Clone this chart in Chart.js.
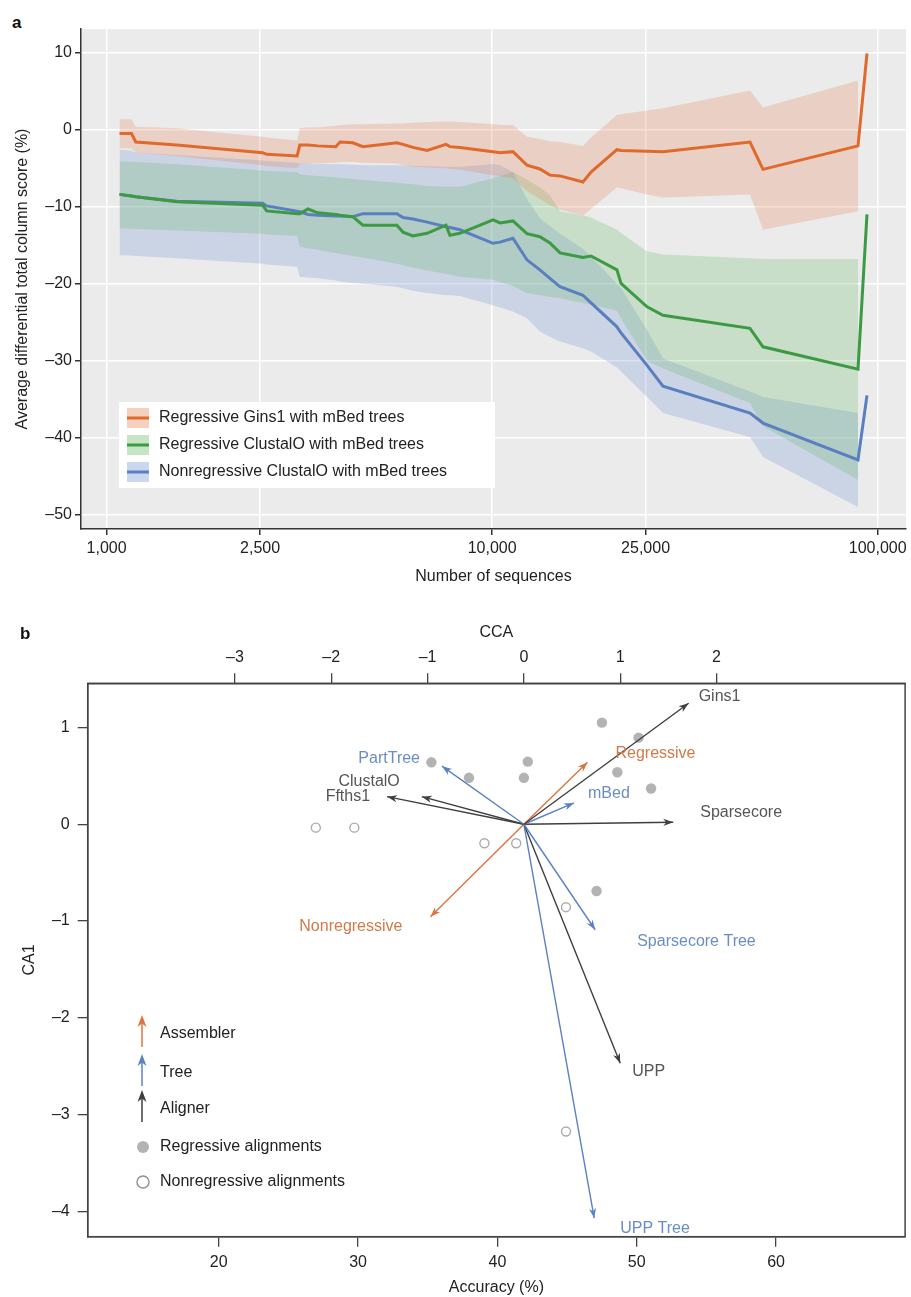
<!DOCTYPE html>
<html>
<head>
<meta charset="utf-8">
<script src="https://cdn.jsdelivr.net/npm/chart.js@4.4.1/dist/chart.umd.min.js"></script>
<style>
  body { margin: 0; background: #fff; width: 911px; height: 1297px; position: relative; overflow: hidden; }
  canvas { position: absolute; left: 0; }
  .panel { position: absolute; font: bold 17px 'Liberation Sans', Arial, sans-serif; color: #111; }
</style>
</head>
<body>
<div class="panel" style="left:12px; top:13px;">a</div>
<canvas id="chartA" width="911" height="600" style="top:0"></canvas>
<canvas id="chartB" width="911" height="697" style="top:600px"></canvas>
<div class="panel" style="left:20px; top:624px;">b</div>
<script>
// ---------- panel a data ----------
const seqCounts = [1080, 1160, 1190, 1520, 2540, 2600, 3120, 3170, 3330, 3530, 3930, 4030, 4350, 4620,
  5660, 5870, 6230, 6780, 7590, 7770, 8250, 10050, 10480, 11320, 12310, 13300, 14120, 15000,
  17200, 18050, 21070, 21590, 25220, 27740, 46640, 50410, 88920, 93810];

const ginsMean = [-0.5, -0.5, -1.6, -2.0, -3.0, -3.2, -3.4, -2.0, -2.0, -2.1, -2.2, -1.6, -1.7, -2.2,
  -1.7, -1.9, -2.3, -2.7, -1.9, -2.2, -2.3, -2.85, -3.0, -2.85, -4.6, -5.1, -5.9, -6.0,
  -6.8, -5.5, -2.6, -2.7, -2.8, -2.85, -1.6, -5.15, -2.1, 9.9];
const ginsHi = [1.35, 1.35, 0.4, 0.2, -0.9, -1.0, -1.4, 0.2, 0.3, 0.3, 0.5, 0.6, 0.7, 0.7,
  0.8, 0.8, 0.9, 1.0, 1.05, 1.05, 1.0, 0.7, 0.6, 0.6, -0.9, -1.2, -1.5, -1.6,
  -2.1, -1.0, 1.9, 2.0, 2.5, 2.8, 5.1, 2.9, 6.4, null];
const ginsLo = [-2.4, -2.4, -3.0, -3.4, -4.6, -4.7, -5.0, -4.5, -4.4, -4.4, -4.3, -4.2, -4.2, -4.3,
  -4.4, -4.6, -4.8, -4.9, -5.0, -5.1, -5.2, -5.9, -6.0, -6.3, -8.0, -9.0, -9.8, -10.4,
  -11.1, -10.3, -7.5, -7.6, -8.4, -8.8, -8.4, -13.0, -10.6, null];

const clustalMean = [-8.4, -8.6, -8.7, -9.35, -9.8, -10.55, -10.9, -10.9, -10.3, -10.8, -11.0, -11.1, -11.3, -12.4,
  -12.4, -13.3, -13.8, -13.45, -12.4, -13.7, -13.45, -11.7, -12.1, -11.85, -13.5, -13.9, -14.7, -16.0,
  -16.6, -16.4, -18.2, -19.95, -23.0, -24.1, -25.8, -28.2, -31.1, -11.0];
const clustalHi = [-4.1, -4.15, -4.2, -4.5, -5.3, -5.35, -5.5, -5.8, -5.9, -6.0, -6.2, -6.25, -6.4, -6.5,
  -6.9, -7.0, -7.1, -7.3, -7.4, -7.4, -7.4, -6.3, -6.0, -5.5, -6.5, -7.5, -8.5, -10.6,
  -11.1, -11.4, -13.0, -13.4, -15.8, -16.2, -16.7, -16.8, -16.8, null];
const clustalLo = [-12.8, -12.85, -12.9, -13.1, -13.5, -13.6, -13.8, -15.2, -15.4, -15.6, -16.0, -16.1, -16.4, -16.6,
  -17.4, -17.6, -17.9, -18.3, -18.7, -18.8, -19.1, -19.5, -19.8, -20.3, -21.2, -21.5, -21.7, -21.9,
  -22.5, -22.7, -23.5, -24.5, -30.0, -31.0, -35.5, -38.5, -45.5, null];

const nonregMean = [-8.4, -8.6, -8.7, -9.3, -9.55, -9.9, -10.6, -10.65, -11.0, -11.1, -11.2, -11.2, -11.3, -10.9,
  -10.9, -11.4, -11.6, -12.0, -12.6, -12.7, -13.0, -14.75, -14.6, -14.1, -16.9, -18.2, -19.3, -20.4,
  -21.5, -22.5, -25.6, -26.4, -30.6, -33.3, -36.8, -38.1, -42.9, -34.5];
const nonregHi = [-2.6, -2.7, -3.0, -3.3, -4.0, -4.05, -4.3, -4.4, -4.4, -4.45, -4.5, -4.5, -4.55, -4.6,
  -4.6, -4.65, -4.7, -4.75, -4.8, -4.8, -4.8, -4.5, -4.6, -5.5, -9.0, -11.5, -12.5, -13.5,
  -15.5, -16.5, -20.0, -20.6, -26.0, -29.7, -34.0, -34.7, -36.8, null];
const nonregLo = [-16.3, -16.35, -16.4, -16.7, -17.4, -17.5, -17.8, -19.1, -19.2, -19.3, -19.6, -19.7, -19.9, -20.0,
  -20.4, -20.6, -20.9, -21.2, -21.5, -21.5, -21.6, -22.8, -23.1, -23.6, -24.5, -26.2, -26.9, -27.5,
  -28.4, -28.8, -30.9, -31.4, -34.7, -36.8, -39.9, -42.5, -49.0, null];

const seriesNames = ['Regressive Gins1 with mBed trees', 'Regressive ClustalO with mBed trees',
  'Nonregressive ClustalO with mBed trees'];
const seqTicks = [1000, 2500, 10000, 25000, 100000];
const scoreTicks = [-50, -40, -30, -20, -10, 0, 10];

// ---------- panel b data ----------
const arrowNames = ['Gins1', 'Regressive', 'mBed', 'Sparsecore', 'PartTree', 'ClustalO', 'Ffths1',
  'Nonregressive', 'Sparsecore Tree', 'UPP', 'UPP Tree'];
const arrowKinds = ['aligner', 'assembler', 'tree', 'aligner', 'tree', 'aligner', 'aligner',
  'assembler', 'tree', 'aligner', 'tree'];
const arrowCCA = [1.71, 0.66, 0.52, 1.55, -0.85, -1.06, -1.42, -0.97, 0.74, 1.00, 0.73];
const arrowCA1 = [1.25, 0.64, 0.22, 0.02, 0.60, 0.285, 0.285, -0.955, -1.09, -2.47, -4.07];

const regX = [0.81, 1.19, 0.04, 0.0, -0.57, 0.97, 1.32, 0.754, -0.96];
const regY = [1.05, 0.895, 0.647, 0.48, 0.48, 0.537, 0.37, -0.69, 0.64];
const nonregX = [-2.16, -1.76, -0.41, -0.08, 0.437, 0.437];
const nonregY = [-0.035, -0.035, -0.196, -0.196, -0.857, -3.175];

const accTicks = [20, 30, 40, 50, 60];
const ccaTicks = [-3, -2, -1, 0, 1, 2];
const ca1Ticks = [-4, -3, -2, -1, 0, 1];
const legendBNames = ['Assembler', 'Tree', 'Aligner', 'Regressive alignments', 'Nonregressive alignments'];

// ---------- styles ----------
const FONT = "'Liberation Sans', Arial, sans-serif";
Chart.defaults.font.family = FONT;
Chart.defaults.font.size = 16;
Chart.defaults.color = '#222';

const lineColors = ['#e0692c', '#3c9a42', '#5a7fc0'];
const bandColors = ['rgba(228,120,70,0.24)', 'rgba(90,180,90,0.24)', 'rgba(100,140,210,0.24)'];
const kindColor = { assembler: '#db7440', tree: '#5b82c0', aligner: '#3f3f3f' };
const kindText = { assembler: '#cf7a4b', tree: '#6a8dc4', aligner: '#555' };

// where each arrow label sits relative to its tip (px)
const labelPlace = {
  'Gins1': [10, -7, 'left'], 'Regressive': [28, -9, 'left'], 'mBed': [14, -9, 'left'],
  'Sparsecore': [27, -10, 'left'], 'PartTree': [-22, -8, 'right'], 'ClustalO': [-22, -15, 'right'],
  'Ffths1': [-17, 0, 'right'], 'Nonregressive': [-28, 10, 'right'], 'Sparsecore Tree': [42, 12, 'left'],
  'UPP': [12, 8, 'left'], 'UPP Tree': [26, 10, 'left']
};

const dash = v => (v < 0 ? '\u2013' + Math.abs(v) : String(v));
const commas = v => String(v).replace(/\B(?=(\d{3})+(?!\d))/g, ',');
const fixTicks = vals => scale => { scale.ticks = vals.map(v => ({ value: v })); };

// ---------- panel a ----------
const toXY = arr => seqCounts.map((n, i) => ({ x: n, y: arr[i] }));
const series = [
  { mean: ginsMean, hi: ginsHi, lo: ginsLo },
  { mean: clustalMean, hi: clustalHi, lo: clustalLo },
  { mean: nonregMean, hi: nonregHi, lo: nonregLo }
];
const dsA = [];
series.forEach((s, k) => {
  dsA.push({ data: toXY(s.hi), borderWidth: 0, pointRadius: 0, fill: false });
  dsA.push({ data: toXY(s.lo), borderWidth: 0, pointRadius: 0, fill: '-1', backgroundColor: bandColors[k] });
});
series.forEach((s, k) => {
  dsA.push({ data: toXY(s.mean), borderColor: lineColors[k], borderWidth: 3, pointRadius: 0, fill: false });
});

const panelBg = {
  id: 'panelBg',
  beforeDraw(chart) {
    const { ctx, chartArea: a } = chart;
    ctx.save();
    ctx.fillStyle = '#ebebeb';
    ctx.fillRect(a.left, a.top, a.right - a.left, a.bottom - a.top);
    ctx.restore();
  }
};

const legendA = {
  id: 'legendA',
  afterDraw(chart) {
    const ctx = chart.ctx;
    ctx.save();
    ctx.fillStyle = '#fff';
    ctx.fillRect(119, 402, 376, 86);
    const rows = [418, 445, 472];
    seriesNames.forEach((name, k) => {
      const y = rows[k];
      ctx.fillStyle = bandColors[k].replace('0.24', '0.35');
      ctx.fillRect(127, y - 10, 22, 20);
      ctx.strokeStyle = lineColors[k];
      ctx.lineWidth = 3;
      ctx.beginPath(); ctx.moveTo(127, y); ctx.lineTo(149, y); ctx.stroke();
      ctx.fillStyle = '#222';
      ctx.font = '16px ' + FONT;
      ctx.textBaseline = 'middle';
      ctx.fillText(name, 159, y);
    });
    ctx.restore();
  }
};

new Chart(document.getElementById('chartA'), {
  type: 'line',
  data: { datasets: dsA },
  plugins: [panelBg, legendA],
  options: {
    responsive: false,
    animation: false,
    devicePixelRatio: 1,
    layout: { padding: { top: 29, right: 5, left: 0, bottom: 0 } },
    elements: { line: { tension: 0 } },
    plugins: { legend: { display: false }, tooltip: { enabled: false }, filler: { drawTime: 'beforeDatasetsDraw' } },
    scales: {
      x: {
        type: 'logarithmic', min: 858, max: 118430,
        afterBuildTicks: fixTicks(seqTicks),
        afterFit: s => { s.height = 71; },
        ticks: { callback: v => commas(v), padding: 4, maxRotation: 0, autoSkip: false, color: '#222' },
        grid: { color: '#fff', lineWidth: 1.5, tickColor: '#333', tickLength: 6 },
        border: { color: '#333', width: 1.5 },
        title: { display: true, text: 'Number of sequences', color: '#222', padding: { top: 0, bottom: 14 } }
      },
      y: {
        min: -51.86, max: 13.08,
        afterBuildTicks: fixTicks(scoreTicks),
        afterFit: s => { s.width = 81; },
        ticks: { callback: v => dash(v), padding: 3, color: '#222' },
        grid: { color: '#fff', lineWidth: 1.5, tickColor: '#333', tickLength: 6 },
        border: { color: '#333', width: 1.5 },
        title: { display: true, text: 'Average differential total column score (%)', color: '#222', padding: { top: 13, bottom: 0 } }
      }
    }
  }
});

// ---------- panel b ----------
const dsB = [];
dsB.push({
  data: regX.map((x, i) => ({ x, y: regY[i] })), xAxisID: 'x2', yAxisID: 'y', order: 2,
  pointRadius: 5.2, pointBackgroundColor: '#b3b3b3', pointBorderWidth: 0
});
dsB.push({
  data: nonregX.map((x, i) => ({ x, y: nonregY[i] })), xAxisID: 'x2', yAxisID: 'y', order: 2,
  pointRadius: 4.5, pointBackgroundColor: '#fff', pointBorderColor: '#ababab', pointBorderWidth: 1.4
});
arrowNames.forEach((name, i) => {
  dsB.push({
    arrow: true, label: name, kind: arrowKinds[i],
    data: [{ x: 0, y: 0 }, { x: arrowCCA[i], y: arrowCA1[i] }], xAxisID: 'x2', yAxisID: 'y', order: 1,
    showLine: true, borderColor: kindColor[arrowKinds[i]], borderWidth: 1.4, pointRadius: 0
  });
});

function arrowHead(ctx, x0, y0, x1, y1, color, len, half) {
  const ang = Math.atan2(y1 - y0, x1 - x0);
  ctx.fillStyle = color;
  ctx.beginPath();
  ctx.moveTo(x1, y1);
  ctx.lineTo(x1 - len * Math.cos(ang) + half * Math.sin(ang), y1 - len * Math.sin(ang) - half * Math.cos(ang));
  ctx.lineTo(x1 - len * 0.7 * Math.cos(ang), y1 - len * 0.7 * Math.sin(ang));
  ctx.lineTo(x1 - len * Math.cos(ang) - half * Math.sin(ang), y1 - len * Math.sin(ang) + half * Math.cos(ang));
  ctx.closePath();
  ctx.fill();
}

const arrowsB = {
  id: 'arrowsB',
  afterDatasetsDraw(chart) {
    const ctx = chart.ctx;
    ctx.save();
    ctx.font = '16px ' + FONT;
    ctx.textBaseline = 'middle';
    chart.data.datasets.forEach((ds, i) => {
      if (!ds.arrow) return;
      const pts = chart.getDatasetMeta(i).data;
      const p0 = pts[0], p1 = pts[1];
      arrowHead(ctx, p0.x, p0.y, p1.x, p1.y, kindColor[ds.kind], 10, 3.6);
      const [dx, dy, align] = labelPlace[ds.label];
      ctx.fillStyle = kindText[ds.kind];
      ctx.textAlign = align;
      ctx.fillText(ds.label, p1.x + dx, p1.y + dy);
    });
    ctx.restore();
  },
  afterDraw(chart) {
    const { ctx, chartArea: a } = chart;
    ctx.save();
    ctx.strokeStyle = '#444';
    ctx.lineWidth = 1.5;
    ctx.strokeRect(a.left, a.top, a.right - a.left, a.bottom - a.top);
    // legend
    const kinds = ['assembler', 'tree', 'aligner'];
    const rows = [434, 473, 509, 547, 582];
    ctx.font = '16px ' + FONT;
    ctx.textBaseline = 'middle';
    ctx.textAlign = 'left';
    kinds.forEach((k, j) => {
      const yb = rows[j] + 13, yt = rows[j] - 19;
      ctx.strokeStyle = kindColor[k];
      ctx.lineWidth = 1.5;
      ctx.beginPath(); ctx.moveTo(142, yb); ctx.lineTo(142, yt + 6); ctx.stroke();
      arrowHead(ctx, 142, yb, 142, yt, kindColor[k], 12, 4.5);
    });
    ctx.fillStyle = '#b3b3b3';
    ctx.beginPath(); ctx.arc(143, rows[3], 6, 0, Math.PI * 2); ctx.fill();
    ctx.strokeStyle = '#8f8f8f';
    ctx.lineWidth = 1.4;
    ctx.beginPath(); ctx.arc(143, rows[4], 6, 0, Math.PI * 2); ctx.stroke();
    ctx.fillStyle = '#222';
    legendBNames.forEach((t, j) => ctx.fillText(t, 160, rows[j]));
    ctx.restore();
  }
};

const tickGrid = { drawOnChartArea: false, tickLength: 10, tickColor: '#444', lineWidth: 1.3 };
const axisBorder = { color: '#444', width: 1.5 };

new Chart(document.getElementById('chartB'), {
  type: 'scatter',
  data: { datasets: dsB },
  plugins: [arrowsB],
  options: {
    responsive: false,
    animation: false,
    devicePixelRatio: 1,
    layout: { padding: { top: 0, right: 2, left: 0, bottom: 0 } },
    plugins: { legend: { display: false }, tooltip: { enabled: false } },
    scales: {
      x: {
        type: 'linear', position: 'bottom', min: 10.6, max: 69.26,
        afterBuildTicks: fixTicks(accTicks),
        afterFit: s => { s.height = 60.3; },
        ticks: { padding: 6, color: '#222' },
        grid: tickGrid, border: axisBorder,
        title: { display: true, text: 'Accuracy (%)', color: '#222', padding: { top: 0, bottom: 0 } }
      },
      x2: {
        type: 'linear', position: 'top', min: -4.528, max: 3.957,
        afterBuildTicks: fixTicks(ccaTicks),
        afterFit: s => { s.height = 83.3; },
        ticks: { callback: v => dash(v), padding: 6, color: '#222' },
        grid: tickGrid, border: axisBorder,
        title: { display: true, text: 'CCA', color: '#222', padding: { top: 23, bottom: 0 } }
      },
      y: {
        type: 'linear', min: -4.262, max: 1.4566,
        afterBuildTicks: fixTicks(ca1Ticks),
        afterFit: s => { s.width = 87.7; },
        ticks: { callback: v => dash(v), padding: 8, color: '#222' },
        grid: tickGrid, border: axisBorder,
        title: { display: true, text: 'CA1', color: '#222', padding: { top: 20, bottom: 0 } }
      }
    }
  }
});
</script>
</body>
</html>
